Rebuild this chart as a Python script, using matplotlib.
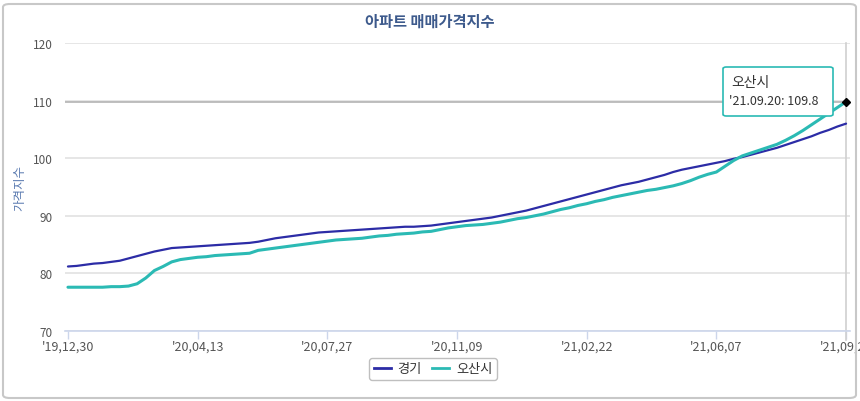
import matplotlib
matplotlib.use("Agg")
import matplotlib.pyplot as plt
import pandas as pd
from matplotlib.patches import FancyBboxPatch
from matplotlib.lines import Line2D

plt.rcParams['font.family'] = ['Noto Sans CJK KR', 'DejaVu Sans']

title = "아파트 매매가격지수"
y_label = "가격지수"
series_names = ["경기", "오산시"]
start_date = "2019-12-30"
n_weeks = 91

gyeonggi = [81.2, 81.3, 81.5, 81.7, 81.8, 82.0, 82.2, 82.6, 83.0, 83.4,
            83.8, 84.1, 84.4, 84.5, 84.6, 84.7, 84.8, 84.9, 85.0, 85.1,
            85.2, 85.3, 85.5, 85.8, 86.1, 86.3, 86.5, 86.7, 86.9, 87.1,
            87.2, 87.3, 87.4, 87.5, 87.6, 87.7, 87.8, 87.9, 88.0, 88.1,
            88.1, 88.2, 88.3, 88.5, 88.7, 88.9, 89.1, 89.3, 89.5, 89.7,
            90.0, 90.3, 90.6, 90.9, 91.3, 91.7, 92.1, 92.5, 92.9, 93.3,
            93.7, 94.1, 94.5, 94.9, 95.3, 95.6, 95.9, 96.3, 96.7, 97.1,
            97.6, 98.0, 98.3, 98.6, 98.9, 99.2, 99.5, 99.9, 100.2, 100.6,
            101.0, 101.4, 101.8, 102.3, 102.8, 103.3, 103.8, 104.4, 104.9, 105.5,
            106.0]
osan = [77.6, 77.6, 77.6, 77.6, 77.6, 77.7, 77.7, 77.8, 78.2, 79.2,
        80.5, 81.2, 82.0, 82.4, 82.6, 82.8, 82.9, 83.1, 83.2, 83.3,
        83.4, 83.5, 84.0, 84.2, 84.4, 84.6, 84.8, 85.0, 85.2, 85.4,
        85.6, 85.8, 85.9, 86.0, 86.1, 86.3, 86.5, 86.6, 86.8, 86.9,
        87.0, 87.2, 87.3, 87.6, 87.9, 88.1, 88.3, 88.4, 88.5, 88.7,
        88.9, 89.2, 89.5, 89.7, 90.0, 90.3, 90.7, 91.1, 91.4, 91.8,
        92.1, 92.5, 92.8, 93.2, 93.5, 93.8, 94.1, 94.4, 94.6, 94.9,
        95.2, 95.6, 96.1, 96.7, 97.2, 97.6, 98.6, 99.6, 100.4, 100.9,
        101.4, 101.9, 102.4, 103.1, 103.9, 104.8, 105.8, 106.8, 107.8, 108.8,
        109.8]
tick_every = 15
y_ticks = [70, 80, 90, 100, 110, 120]
tooltip_title = "오산시"
tooltip_text = "'21.09.20: 109.8"

dates = pd.date_range(start_date, periods=n_weeks, freq="7D")

W, H = 860, 402
fig = plt.figure(figsize=(W / 100, H / 100), dpi=100)

# outer rounded frame
frame = FancyBboxPatch((3 / W, 3 / H), (W - 7) / W, (H - 8) / H,
                       boxstyle="round,pad=0,rounding_size=0.008",
                       transform=fig.transFigure, fill=False,
                       edgecolor="#c8c8c8", linewidth=1.5)
fig.patches.append(frame)

ax = fig.add_axes([65 / W, (H - 332) / H, 785 / W, (332 - 44) / H])
ax.set_facecolor("none")

c_gg = "#2c2ca6"
c_os = "#2bbab4"
ax.plot(dates, gyeonggi, color=c_gg, lw=1.6, zorder=3, solid_capstyle="round")
ax.plot(dates, osan, color=c_os, lw=2.2, zorder=3, solid_capstyle="round")

ax.set_ylim(70, 120)
ax.set_xlim(dates[0] - pd.Timedelta(days=2.4), dates[-1] + pd.Timedelta(days=3.2))
ax.set_yticks(y_ticks)
ax.yaxis.grid(True, color="#e2e2e2", lw=1.2)
ax.set_axisbelow(True)
for s in ["top", "right", "left"]:
    ax.spines[s].set_visible(False)
ax.spines["bottom"].set_color("#ccd6eb")
ax.spines["bottom"].set_linewidth(1.2)

tick_dates = dates[::tick_every]
ax.set_xticks(tick_dates)
ax.set_xticklabels([d.strftime("'%y,%m,%d") for d in tick_dates])
ax.tick_params(axis="x", length=6, width=1, color="#ccd6eb", labelsize=9,
               labelcolor="#555555", pad=0)
ax.tick_params(axis="y", length=0, labelsize=8.5, labelcolor="#555555", pad=9)

# crosshairs and hover marker
ax.plot([dates[-1], dates[-1]], [-0.03, 1], transform=ax.get_xaxis_transform(),
        color="#d0d0d0", lw=1.2, zorder=2, clip_on=False)
ax.axhline(osan[-1], color="#b4b4b4", lw=1.2, zorder=2)
ax.plot([dates[-1]], [osan[-1]], marker="D", color="black", ms=4, zorder=5,
        clip_on=False)

fig.text(0.5, (H - 22) / H, title, ha="center", va="center", fontsize=11,
         fontweight="bold", color="#3d5a8c")
fig.text(20 / W, (H - 188) / H, y_label, ha="center", va="center",
         rotation=90, fontsize=9, color="#5a7ab0")

# tooltip
tip = FancyBboxPatch((723 / W, (H - 117) / H), 110 / W, 49 / H,
                     boxstyle="round,pad=0,rounding_size=0.004",
                     transform=fig.transFigure, facecolor="white",
                     edgecolor=c_os, linewidth=1.2, zorder=10)
fig.patches.append(tip)
fig.text(731 / W, (H - 83) / H, tooltip_title, ha="left", va="center",
         fontsize=10, color="#333333", zorder=11)
fig.text(729 / W, (H - 102) / H, tooltip_text, ha="left", va="center",
         fontsize=9, color="#333333", zorder=11)

handles = [Line2D([0], [0], color=c_gg, lw=2), Line2D([0], [0], color=c_os, lw=2)]
leg = fig.legend(handles, series_names, loc="center", bbox_to_anchor=(433 / W, (H - 370) / H),
                 ncol=2, frameon=True, fontsize=9.5, handlelength=1.3,
                 columnspacing=0.8, handletextpad=0.5, borderpad=0.35,
                 fancybox=True, edgecolor="#b0b0b0")
leg.get_frame().set_linewidth(1.0)
for t in leg.get_texts():
    t.set_color("#333333")

fig.savefig("out.png", dpi=100)
